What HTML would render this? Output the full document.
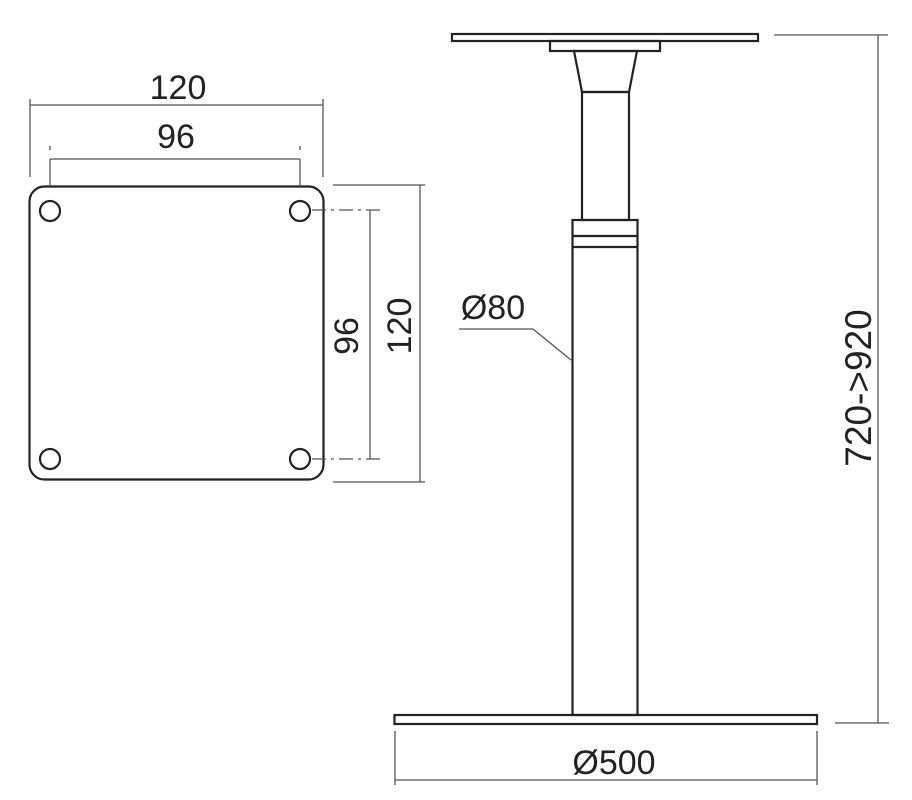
<!DOCTYPE html>
<html><head><style>html,body{margin:0;padding:0;background:#fff}svg{display:block}</style></head>
<body>
<svg width="912" height="800" viewBox="0 0 912 800" xmlns="http://www.w3.org/2000/svg">
<g fill="none" stroke="#222" stroke-width="2.2">
<rect x="29.5" y="186.5" width="294" height="293" rx="15"/>
<circle cx="50" cy="211" r="10"/><circle cx="300" cy="211" r="10"/>
<circle cx="50" cy="459" r="10"/><circle cx="300" cy="459" r="10"/>
<rect x="452" y="34" width="306" height="7"/>
<rect x="550" y="41" width="110" height="10"/>
<path d="M574 51 L637 51 L629 92 L582 92 Z"/>
<rect x="582" y="92" width="47" height="128"/>
<rect x="572.5" y="220" width="65" height="495"/>
<line x1="572" y1="236" x2="638" y2="236"/>
<line x1="572" y1="247" x2="638" y2="247"/>
<rect x="394.5" y="715" width="422.5" height="9"/>
</g>
<g fill="none" stroke="#555" stroke-width="1.3">
<line x1="30" y1="105" x2="323" y2="105"/>
<line x1="30" y1="99" x2="30" y2="177"/><line x1="323" y1="99" x2="323" y2="177"/>
<line x1="50" y1="159" x2="300" y2="159"/>
<line x1="50" y1="159" x2="50" y2="186"/><line x1="300" y1="159" x2="300" y2="186"/>
<line x1="50" y1="146" x2="50" y2="150"/><line x1="300" y1="146" x2="300" y2="150"/>
<line x1="333" y1="185" x2="425" y2="185"/><line x1="333" y1="482" x2="425" y2="482"/>
<line x1="420" y1="185" x2="420" y2="482"/>
<line x1="370" y1="210" x2="370" y2="459"/>
<line x1="312" y1="210" x2="380" y2="210" stroke-dasharray="14 5 3 5"/>
<line x1="312" y1="459" x2="380" y2="459" stroke-dasharray="14 5 3 5"/>
<line x1="459" y1="329" x2="533" y2="329"/><line x1="533" y1="329" x2="571" y2="360"/>
<line x1="774" y1="35" x2="888" y2="35"/><line x1="835" y1="723" x2="889" y2="723"/>
<line x1="878" y1="35" x2="878" y2="723"/>
<line x1="395" y1="780" x2="817" y2="780"/>
<line x1="395" y1="731" x2="395" y2="785"/><line x1="817" y1="731" x2="817" y2="785"/>
</g>
<g font-family="Liberation Sans, sans-serif" font-size="34" fill="#222" text-anchor="middle">
<text x="178" y="99">120</text>
<text x="176" y="148">96</text>
<text transform="translate(358,336) rotate(-90)">96</text>
<text transform="translate(411,326) rotate(-90)">120</text>
<text x="493" y="319">Ø80</text>
<text x="614" y="774">Ø500</text>
<text transform="translate(871,388) rotate(-90)" font-size="37">720-&gt;920</text>
</g>
</svg>
</body></html>
